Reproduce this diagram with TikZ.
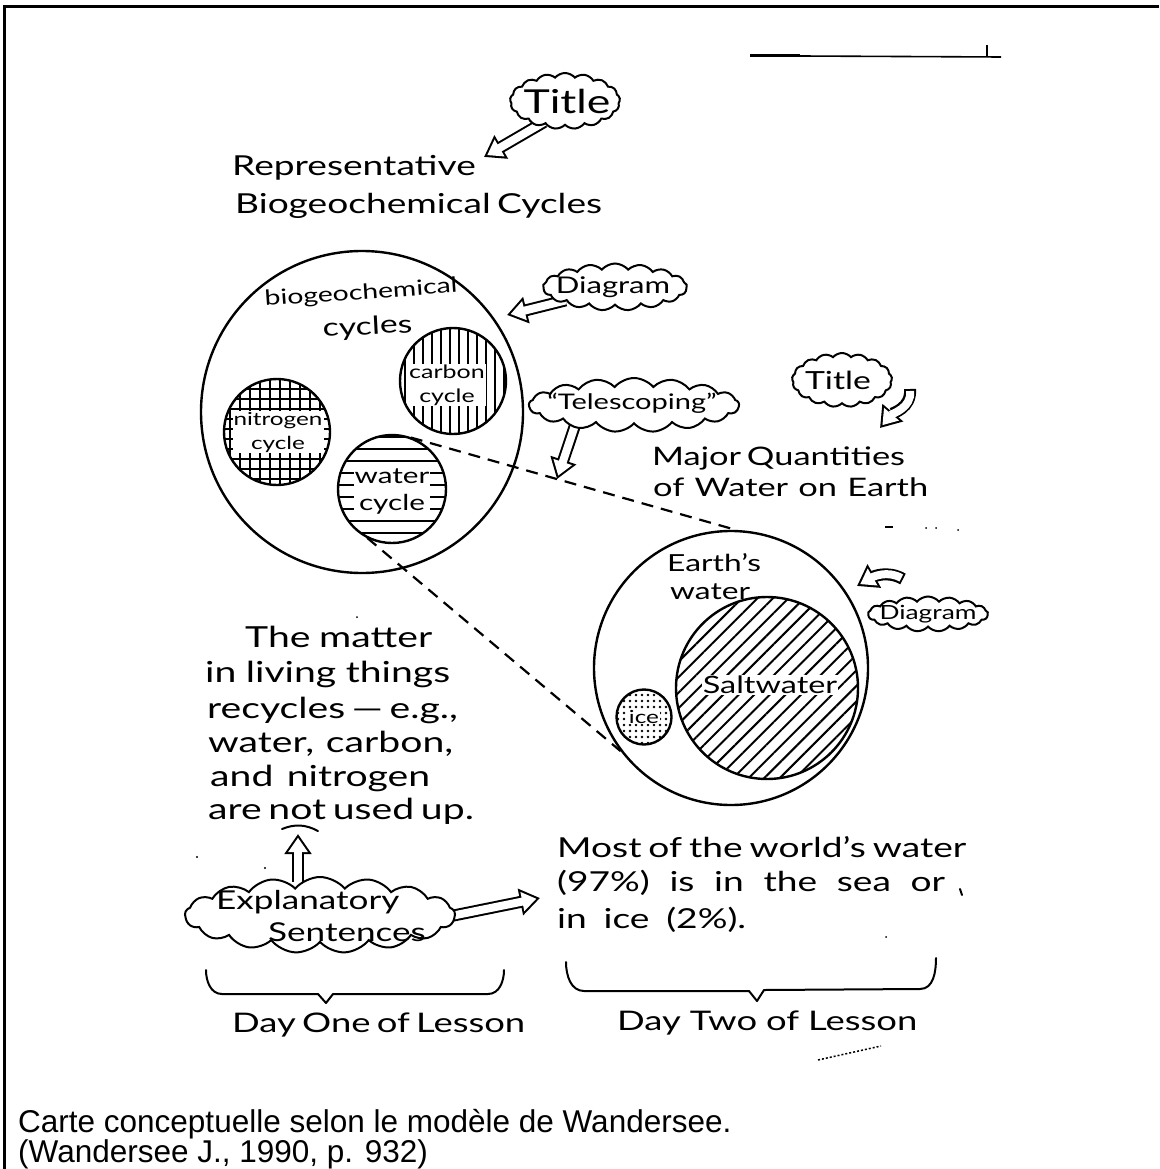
\documentclass[tikz,border=0pt]{standalone}
\usepackage{fontspec}
\setmainfont{Lato}[FakeStretch=1.35]
\newfontfamily\capfont{Liberation Sans}
\usetikzlibrary{shapes.symbols,patterns.meta,arrows.meta,calc}
\pgfdeclarelayer{paper}
\pgfdeclarelayer{bg}
\pgfsetlayers{paper,bg,main}
\newcommand\fs[2]{\fontsize{#1pt}{#2pt}\selectfont}
\newcommand\spread[2]{\makebox[#1pt][s]{#2}}
\newcommand\hollow[3]{\draw[harrowout,#1]#3;\draw[harrowin,#1,#2]#3;}
\tikzset{
 ring/.style={circle, draw, line width=2.4pt, inner sep=0pt},
 puff/.style={cloud, draw, fill=white, line width=2pt, cloud puffs=17, cloud puff arc=100, cloud ignores aspect, inner sep=0pt},
 harrowout/.style={line width=12pt, -{Triangle[length=20pt,width=26pt]}},
 harrowin/.style={white, line width=8pt, -{Triangle[length=14.3pt,width=18.6pt]}, shorten >=3.7pt},
 dashline/.style={line width=2.2pt, dash pattern=on 12pt off 8pt},
 txt/.style={anchor=base west, inner sep=0pt},
 lbl/.style={inner sep=1pt, fill=white, align=center},
 ink/.style={line width=2pt, line cap=round, line join=round},
}
\begin{document}
\begin{tikzpicture}[x=1pt,y=-1pt]
\useasboundingbox (0,0) rectangle (1159,1169);
\begin{pgfonlayer}{paper}\fill[white] (0,0) rectangle (1159,1169);\end{pgfonlayer}
% frame
\draw[line width=3pt] (1159,7) -- (4,7) -- (4,1169);
% stray marks
\draw[line width=3pt] (750,56) -- (800,56);
\draw[line width=1.6pt] (800,56) -- (1001,57);
\draw[line width=1.8pt] (987,45) -- (987,57);
\draw[line width=1.2pt] (885,527) -- (893,527);
\fill (926,528) circle (1pt) (936,528) circle (1pt) (958,530) circle (1pt);
\draw[line width=1.5pt, dash pattern=on 2pt off 2pt] (818,1060) -- (881,1046);
\fill (197,857) circle (1.2pt) (265,868) circle (1.2pt) (357,617) circle (1pt) (886,937) circle (1pt);
% title 1
\node[puff, minimum width=110pt, minimum height=56pt] (title1) at (565,101) {};
\node[font=\fs{33}{33}] (title1t) at (567,101) {Title};
\node[txt, font=\fs{27.5}{30}] (rep) at (232,176) {Representative};
\node[txt, font=\fs{27.5}{30}] (bio) at (235,213) {\spread{363}{Biogeochemical Cycles}};
\coordinate (t1tip) at (484,157);
% big circle 1
\node[ring, minimum size=322pt] (bgc) at (362,412) {};
\node[txt, font=\fs{21}{21}, rotate=4] (bgtext) at (265,306) {biogeochemical};
\node[txt, font=\fs{25}{25}, rotate=3] (cyc) at (323,337) {cycles};
\node[ring, minimum size=106pt, pattern={Lines[angle=90,distance=9pt,line width=1.6pt]}] (carbon) at (453,381) {};
\node[lbl, font=\fs{18.5}{24}] (carbont) at (447,385) {carbon\\cycle};
\node[ring, minimum size=106pt, pattern={Hatch[angle=0,distance=10pt,line width=1.5pt]}] (nitro) at (277,432) {};
\node[lbl, font=\fs{18}{24}] (nitrot) at (278,432) {nitrogen\\cycle};
\node[ring, minimum size=108pt, pattern={Lines[angle=0,distance=12pt,line width=1.6pt]}] (water) at (392,489) {};
\node[lbl, font=\fs{22}{27}] (watert) at (392,492) {water\\cycle};
% diagram 1
\node[puff, minimum width=144pt, minimum height=47pt] (diag1) at (615,287) {};
\node[font=\fs{23}{23}] (diag1t) at (613,287) {Diagram};
\coordinate (d1tip) at (507,315);
% earth circle
\node[ring, minimum size=274pt] (earth) at (731,668) {};
\node[txt, font=\fs{23.5}{23.5}] (eartht) at (667,571) {Earth’s};
\node[txt, font=\fs{23.5}{23.5}] (earthw) at (670,599) {water};
\node[ring, minimum size=182pt, pattern={Lines[angle=45,distance=11pt,line width=2pt]}] (salt) at (767,688) {};
\node[lbl, font=\fs{24}{24}] (saltt) at (770,685) {Saltwater};
\node[ring, minimum size=55pt, pattern={Dots[radius=1.3pt,distance=6pt]}] (ice) at (644,717) {};
\node[lbl, font=\fs{18}{18}, inner sep=0.5pt] (icet) at (644,717) {ice};
% telescoping
\draw[dashline] (water.70) -- (earth.88);
\draw[dashline] (water.243) -- (earth.217);
\node[puff, minimum width=210pt, minimum height=54pt] (tele) at (634,405) {};
\node[font=\fs{21.5}{21.5}] (telet) at (632,403) {“Telescoping”};
\coordinate (teltip) at ($(water.70)!0.45!(earth.88)$);
% title 2
\node[puff, minimum width=100pt, minimum height=54pt] (title2) at (842,380) {};
\node[font=\fs{25}{25}] (title2t) at (838,380) {Title};
\coordinate (t2tail) at (910,389);
\coordinate (t2tip) at (880,428);
\node[txt, font=\fs{25.5}{25.5}] (maj1) at (652,465) {\spread{248}{Major Quantities}};
\node[txt, font=\fs{25.5}{25.5}] (maj2) at (653,496) {\spread{275}{of Water on Earth}};
% diagram 2
\node[puff, minimum width=120pt, minimum height=35pt] (diag2) at (928,614) {};
\node[font=\fs{19.5}{19.5}] (diag2t) at (928,614) {Diagram};
\coordinate (d2tail) at (903,579);
\coordinate (d2tip) at (857,586);
% left sentences
\node[txt, font=\fs{29}{29}] (l1) at (245,647) {\spread{187}{The matter}};
\node[txt, font=\fs{29}{29}] (l2) at (205,682) {\spread{245}{in living things}};
\node[txt, font=\fs{29}{29}] (l3) at (207,718) {\spread{245}{recycles — e.g.,}};
\node[txt, font=\fs{29}{29}] (l4) at (208,752) {\spread{245}{water, carbon,}};
\node[txt, font=\fs{29}{29}] (l5) at (210,786) {\spread{220}{and nitrogen}};
\node[txt, font=\fs{29}{29}] (l6) at (208,819) {\spread{257}{are not used up.}};
\draw[ink] (282,829) to[bend left=25] (318,831);
% explanatory
\node[puff, minimum width=270pt, minimum height=76pt] (expl) at (320,915) {};
\node[txt, font=\fs{26}{26}] (ex1) at (216,909) {Explanatory};
\node[txt, font=\fs{26}{26}] (ex2) at (268,941) {Sentences};
\coordinate (uptip) at (298,834);
\coordinate (rtip) at (540,898);
% right sentences
\node[txt, font=\fs{27.5}{27.5}] (r1) at (557,857) {\spread{409}{Most of the world’s water}};
\node[txt, font=\fs{27.5}{27.5}] (r2) at (557,891) {\spread{388}{(97\%) is in the sea or}};
\node[txt, font=\fs{27.5}{27.5}] (r3) at (557,928) {\spread{189}{in ice (2\%).}};
\draw[ink] (960,889) -- (962,895);
% braces
\draw[ink] (206,970) to[out=-90,in=180] (222,994) -- (318,994) -- (326,1003) -- (333,994) -- (488,994) to[out=0,in=-90] (504,970);
\draw[ink] (566,962) to[out=-90,in=180] (584,991) -- (749,991) -- (757,1001) -- (764,990) -- (920,989) to[out=0,in=-90] (936,958);
\node[txt, font=\fs{27}{27}] (day1) at (232,1032) {\spread{286}{Day One of Lesson}};
\node[txt, font=\fs{27}{27}] (day2) at (617,1030) {\spread{300}{Day Two of Lesson}};
% caption
\node[txt, font=\capfont\fs{31.5}{33}] (cap1) at (18,1132) {Carte conceptuelle selon le modèle de Wandersee.};
\node[txt, font=\capfont\fs{31.5}{33}] (cap2) at (18,1162) {(Wandersee J., 1990, p. 932)};
% hollow arrows
\begin{pgfonlayer}{bg}
\hollow{shorten <=-8pt}{}{(title1.222) -- (t1tip)}
\hollow{shorten <=-8pt}{}{(diag1.195) -- (d1tip)}
\hollow{shorten <=-8pt}{}{(tele.201) -- (teltip)}
\hollow{}{shorten <=2pt}{(t2tail) to[out=-85,in=50] (t2tip)}
\hollow{}{shorten <=2pt}{(d2tail) to[out=150,in=30] (d2tip)}
\hollow{shorten <=-6pt}{}{(expl.north -| uptip) -- (uptip)}
\hollow{shorten <=-6pt}{}{(expl.east) -- (rtip)}
\end{pgfonlayer}
\end{tikzpicture}
\end{document}
